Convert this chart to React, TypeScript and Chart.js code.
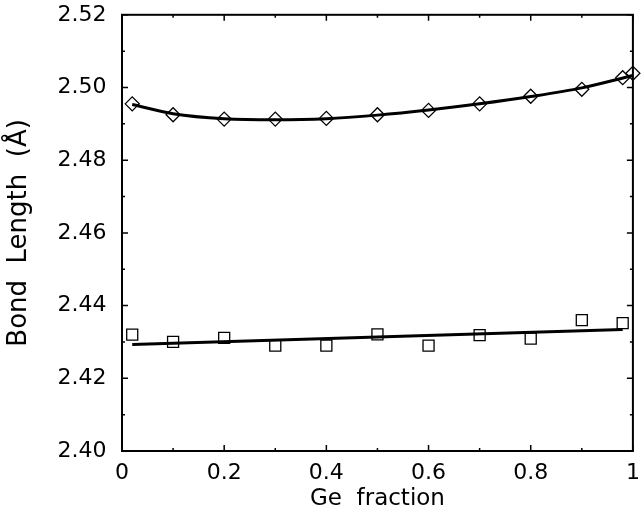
import React, { useEffect, useRef } from "react";
import { Chart, registerables } from "chart.js";

Chart.register(...registerables);

// Axis ticks
const xTickValues = [0, 0.2, 0.4, 0.6, 0.8, 1.0];
const xTickLabels = ["0", "0.2", "0.4", "0.6", "0.8", "1"];
const xMinorTicks = [0.1, 0.3, 0.5, 0.7, 0.9];
const yTickValues = [2.4, 2.42, 2.44, 2.46, 2.48, 2.5, 2.52];
const yTickLabels = ["2.40", "2.42", "2.44", "2.46", "2.48", "2.50", "2.52"];
const yMinorTicks = [2.41, 2.43, 2.45, 2.47, 2.49, 2.51];

// Diamond series (upper)
const diamondX = [0.02, 0.1, 0.2, 0.3, 0.4, 0.5, 0.6, 0.7, 0.8, 0.9, 0.98, 1.0];
const diamondY = [2.4955, 2.4925, 2.4913, 2.4913, 2.4915, 2.4925, 2.4937, 2.4955, 2.4976, 2.4995, 2.5027, 2.5039];
// Fit curve through diamonds
const diamondFitX = [0.02, 0.1, 0.2, 0.3, 0.4, 0.5, 0.6, 0.7, 0.8, 0.9, 1.0];
const diamondFitY = [2.4953, 2.4928, 2.4914, 2.4911, 2.4914, 2.4924, 2.4938, 2.4955, 2.4975, 2.4999, 2.5033];

// Square series (lower)
const squareX = [0.02, 0.1, 0.2, 0.3, 0.4, 0.5, 0.6, 0.7, 0.8, 0.9, 0.98];
const squareY = [2.432, 2.43, 2.4311, 2.429, 2.429, 2.4321, 2.429, 2.4319, 2.4309, 2.436, 2.4352];
// Fit line through squares
const squareFitX = [0.02, 0.98];
const squareFitY = [2.4293, 2.4334];

const FONT = "DejaVu Sans";

const toPoints = (xs: number[], ys: number[]) => xs.map((x, i) => ({ x, y: ys[i] }));

const framePlugin = {
  id: "frameTicks",
  afterDatasetsDraw(chart: any) {
    const { ctx, chartArea, scales } = chart;
    const { left, right, top, bottom } = chartArea;
    const xs = scales.x;
    const ys = scales.y;
    ctx.save();
    ctx.strokeStyle = "#000";
    ctx.lineWidth = 1.5;
    ctx.beginPath();
    const xTicks = (vals: number[], len: number) => {
      vals.forEach((v) => {
        const p = xs.getPixelForValue(v);
        ctx.moveTo(p, bottom);
        ctx.lineTo(p, bottom - len);
        ctx.moveTo(p, top);
        ctx.lineTo(p, top + len);
      });
    };
    const yTicks = (vals: number[], len: number) => {
      vals.forEach((v) => {
        const p = ys.getPixelForValue(v);
        ctx.moveTo(left, p);
        ctx.lineTo(left + len, p);
        ctx.moveTo(right, p);
        ctx.lineTo(right - len, p);
      });
    };
    xTicks(xTickValues, 6);
    xTicks(xMinorTicks, 3);
    yTicks(yTickValues, 6);
    yTicks(yMinorTicks, 3);
    ctx.stroke();
    ctx.lineWidth = 2;
    ctx.strokeRect(left, top, right - left, bottom - top);
    ctx.restore();
  },
};

export default function App() {
  const canvasRef = useRef<HTMLCanvasElement | null>(null);

  useEffect(() => {
    document.body.style.margin = "0";
    const canvas = canvasRef.current;
    if (!canvas) return;
    const chart = new Chart(canvas, {
      type: "scatter",
      data: {
        datasets: [
          {
            label: "diamond fit",
            data: toPoints(diamondFitX, diamondFitY),
            showLine: true,
            borderColor: "#000",
            borderWidth: 3,
            pointRadius: 0,
            cubicInterpolationMode: "monotone",
            clip: false,
          } as any,
          {
            label: "square fit",
            data: toPoints(squareFitX, squareFitY),
            showLine: true,
            borderColor: "#000",
            borderWidth: 3,
            pointRadius: 0,
            clip: false,
          } as any,
          {
            label: "diamonds",
            data: toPoints(diamondX, diamondY),
            pointStyle: "rectRot",
            pointRadius: 7,
            pointBorderWidth: 1.3,
            pointBorderColor: "#000",
            pointBackgroundColor: "rgba(0,0,0,0)",
            borderColor: "#000",
            backgroundColor: "rgba(0,0,0,0)",
            clip: false,
          } as any,
          {
            label: "squares",
            data: toPoints(squareX, squareY),
            pointStyle: "rect",
            pointRadius: 7.8,
            pointBorderWidth: 1.3,
            pointBorderColor: "#000",
            pointBackgroundColor: "rgba(0,0,0,0)",
            borderColor: "#000",
            backgroundColor: "rgba(0,0,0,0)",
            clip: false,
          } as any,
        ],
      },
      options: {
        animation: false,
        responsive: false,
        devicePixelRatio: 1,
        events: [],
        layout: { padding: { left: 0, right: 2.7, top: 14.8, bottom: 0 } },
        plugins: {
          legend: { display: false },
          tooltip: { enabled: false },
        },
        scales: {
          x: {
            type: "linear",
            min: 0,
            max: 1,
            afterBuildTicks: (s: any) => {
              s.ticks = xTickValues.map((v) => ({ value: v }));
            },
            afterFit: (s: any) => {
              s.height = 71;
              s.paddingLeft = 0;
              s.paddingRight = 0;
            },
            ticks: {
              callback: (_v: any, i: number) => xTickLabels[i],
              font: { family: FONT, size: 22 },
              color: "#000",
              padding: 9,
              maxRotation: 0,
              autoSkip: false,
            },
            grid: { display: false, drawTicks: false },
            border: { display: false },
            title: {
              display: true,
              text: "Ge  fraction",
              font: { family: FONT, size: 23 },
              color: "#000",
              padding: { top: 0, bottom: 8.7 },
            },
          },
          y: {
            type: "linear",
            min: 2.4,
            max: 2.52,
            afterBuildTicks: (s: any) => {
              s.ticks = yTickValues.map((v) => ({ value: v }));
            },
            afterFit: (s: any) => {
              s.width = 122;
              s.paddingTop = 0;
              s.paddingBottom = 0;
            },
            ticks: {
              callback: (_v: any, i: number) => yTickLabels[i],
              font: { family: FONT, size: 22 },
              color: "#000",
              padding: 15.5,
              autoSkip: false,
            },
            grid: { display: false, drawTicks: false },
            border: { display: false },
            title: {
              display: true,
              text: "Bond  Length  (Å)",
              font: { family: FONT, size: 26 },
              color: "#000",
              padding: { top: 4, bottom: 0 },
            },
          },
        },
      },
      plugins: [framePlugin],
    });
    return () => chart.destroy();
  }, []);

  return (
    <div style={{ position: "absolute", left: 0, top: 0, width: 642, height: 522, background: "#fff" }}>
      <canvas ref={canvasRef} width={642} height={522} style={{ display: "block" }} />
    </div>
  );
}
